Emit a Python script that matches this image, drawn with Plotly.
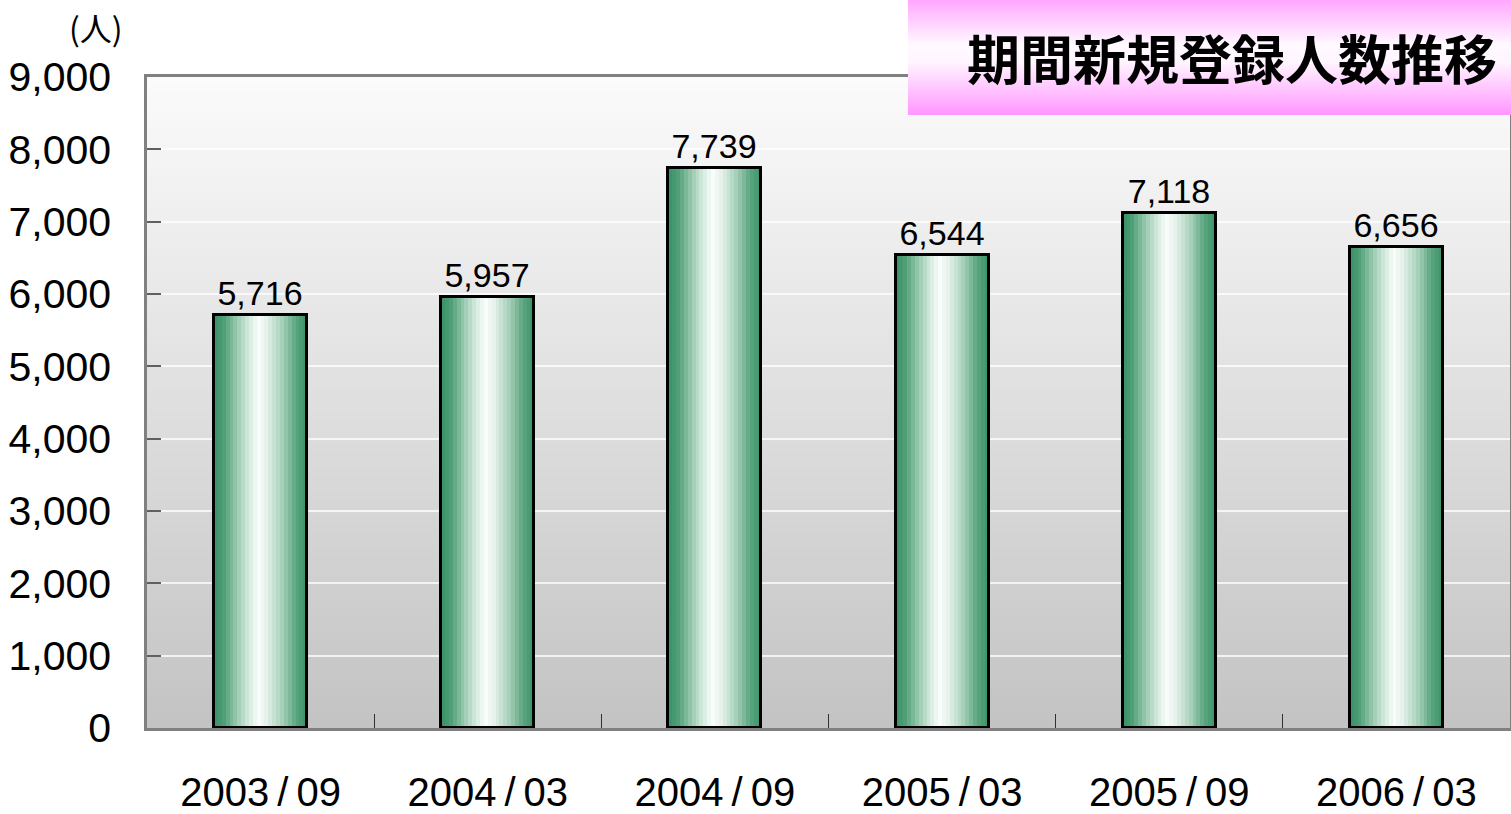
import plotly.graph_objects as go

# ---- data ----
categories = ["2003/09", "2004/03", "2004/09", "2005/03", "2005/09", "2006/03"]
values = [5716, 5957, 7739, 6544, 7118, 6656]
y_tick_vals = [0, 1000, 2000, 3000, 4000, 5000, 6000, 7000, 8000, 9000]
title_text = "期間新規登録人数推移"
unit_text = "(人)"

# ---- styles ----
NUM_FONT = "Liberation Sans, Arial"
BAR_W = 0.41
N_STRIPS = 24
profile = [
    (0.00, (58, 145, 100)),
    (0.10, (78, 158, 118)),
    (0.25, (155, 202, 176)),
    (0.38, (215, 236, 224)),
    (0.47, (250, 253, 251)),
    (0.56, (232, 243, 237)),
    (0.72, (170, 211, 188)),
    (0.88, (90, 165, 127)),
    (1.00, (60, 146, 102)),
]


def interp(prof, t):
    for (p0, c0), (p1, c1) in zip(prof[:-1], prof[1:]):
        if p0 <= t <= p1:
            f = (t - p0) / (p1 - p0) if p1 > p0 else 0
            return tuple(round(a + (b - a) * f) for a, b in zip(c0, c1))
    return prof[-1][1]


tick_text = [c.replace("/", "\u2009/\u2009") for c in categories]

fig = go.Figure()

for i in range(N_STRIPS):
    t = (i + 0.5) / N_STRIPS
    r, g, b = interp(profile, t)
    fig.add_trace(go.Bar(
        x=categories, y=values,
        width=BAR_W / N_STRIPS + 0.0005,
        offset=-BAR_W / 2 + i * BAR_W / N_STRIPS,
        marker=dict(color=f"rgb({r},{g},{b})", line=dict(width=0)),
        hoverinfo="skip", showlegend=False,
    ))

fig.add_trace(go.Bar(
    x=categories, y=values,
    width=BAR_W, offset=-BAR_W / 2,
    marker=dict(color="rgba(0,0,0,0)", line=dict(color="black", width=3)),
    text=[f"{v:,}" for v in values],
    textposition="outside",
    textfont=dict(family=NUM_FONT, size=34, color="black"),
    cliponaxis=False,
    showlegend=False,
))

shapes = []
NB = 80
bot = (195, 195, 195)
top = (251, 251, 251)
for k in range(NB):
    f = (k + 0.5) / NB
    c = tuple(round(a + (b - a) * f) for a, b in zip(bot, top))
    shapes.append(dict(
        type="rect", xref="paper", yref="paper",
        x0=0, x1=1, y0=k / NB, y1=(k + 1) / NB + 0.002,
        fillcolor=f"rgb({c[0]},{c[1]},{c[2]})", line=dict(width=0),
        layer="below",
    ))

pink_prof = [
    (0.00, (255, 165, 255)),
    (0.40, (255, 250, 255)),
    (0.55, (255, 244, 255)),
    (1.00, (255, 150, 255)),
]
box_x0, box_x1 = 0.5583, 1.002
box_y0, box_y1 = 0.9416, 1.12
NP = 50
for k in range(NP):
    tt = (k + 0.5) / NP
    c = interp(pink_prof, tt)
    ya = box_y1 - (box_y1 - box_y0) * k / NP
    yb = box_y1 - (box_y1 - box_y0) * (k + 1) / NP - 0.002
    shapes.append(dict(
        type="rect", xref="paper", yref="paper",
        x0=box_x0, x1=box_x1, y0=max(yb, box_y0), y1=ya,
        fillcolor=f"rgb({c[0]},{c[1]},{c[2]})", line=dict(width=0),
        layer="above",
    ))

fig.update_layout(
    width=1511, height=814,
    margin=dict(l=147, r=1, t=77, b=86),
    paper_bgcolor="white",
    plot_bgcolor="rgba(0,0,0,0)",
    barmode="overlay",
    bargap=0,
    shapes=shapes,
    showlegend=False,
    annotations=[
        dict(text=title_text, xref="paper", yref="paper",
             x=0.796, y=1.031, xanchor="center", yanchor="middle",
             showarrow=False,
             font=dict(family="Noto Sans CJK JP", size=53, color="black",
                       weight="bold")),
        dict(text=unit_text, xref="paper", yref="paper",
             x=-0.0374, y=1.077, xanchor="center", yanchor="middle",
             showarrow=False,
             font=dict(family="Noto Sans CJK JP", size=32, color="black")),
    ],
)

fig.update_yaxes(
    automargin=False,
    range=[0, 9000],
    tickvals=y_tick_vals,
    tickformat=",",
    ticks="inside", ticklen=14, tickcolor="#606060", tickwidth=1.5,
    showline=True, linecolor="#808080", linewidth=2.5, mirror=True,
    showgrid=True, gridcolor="rgba(255,255,255,0.75)", gridwidth=1.5,
    zeroline=False,
    ticklabelstandoff=25,
    tickfont=dict(family=NUM_FONT, size=41, color="black"),
)
fig.update_xaxes(
    automargin=False,
    type="category",
    tickson="boundaries",
    tickmode="array",
    tickvals=categories,
    ticktext=tick_text,
    ticks="inside", ticklen=14, tickcolor="#303030", tickwidth=1,
    showline=True, linecolor="#808080", linewidth=2.5, mirror=True,
    showgrid=False,
    ticklabelstandoff=27,
    tickfont=dict(family=NUM_FONT, size=40, color="black"),
)

fig.write_html(
    "out.html",
    config={"displayModeBar": False},
    post_script="document.body.style.margin='0px';document.body.style.overflow='hidden';",
)
